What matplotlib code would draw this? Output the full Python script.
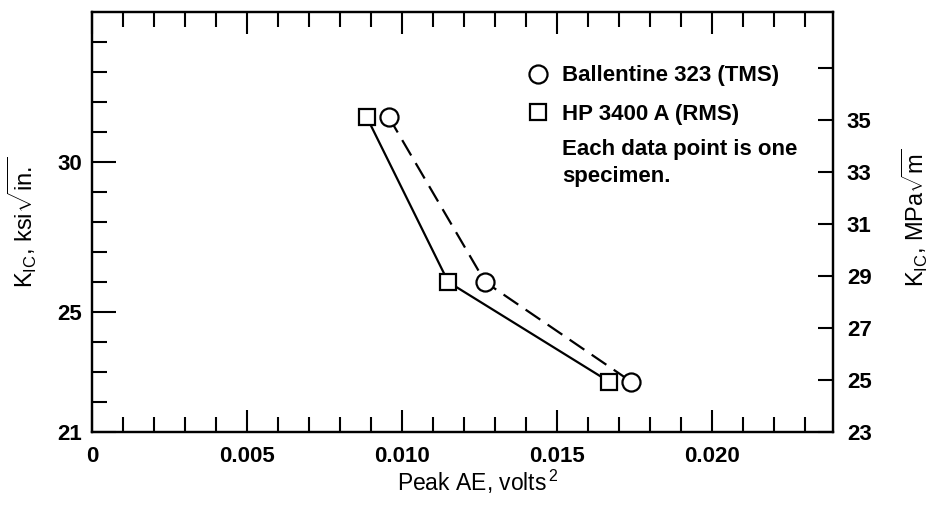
import matplotlib
matplotlib.use("Agg")
import matplotlib.pyplot as plt
from matplotlib.lines import Line2D

plt.rcParams['font.family'] = ['Liberation Sans', 'DejaVu Sans']
plt.rcParams['mathtext.fontset'] = 'custom'
plt.rcParams['mathtext.rm'] = 'Liberation Sans'
plt.rcParams['mathtext.it'] = 'Liberation Sans:italic'
plt.rcParams['mathtext.bf'] = 'Liberation Sans:bold'

# data
peak_ae_tms = [0.00957, 0.01268, 0.0174]
kic_tms = [31.5, 26.0, 22.67]
peak_ae_rms = [0.00886, 0.01149, 0.01669]
kic_rms = [31.5, 26.0, 22.67]

x_major = [0, 0.005, 0.010, 0.015, 0.020]
x_major_labels = ['0', '0.005', '0.010', '0.015', '0.020']
x_minor = [i / 1000 for i in range(0, 24)]
y_major = [21, 25, 30]
y_minor = list(range(22, 35))
mpa_ticks = [23, 25, 27, 29, 31, 33, 35, 37]
mpa_labels = ['23', '25', '27', '29', '31', '33', '35', '']

fig = plt.figure(figsize=(9.3, 5.05), dpi=100)
ax = fig.add_axes([0.099, 0.1446, 0.7967, 0.8314])

ax.plot(peak_ae_tms, kic_tms, color='black', lw=1.6, dashes=(8, 4),
        marker='o', ms=13, mfc='white', mec='black', mew=1.6, zorder=3)
ax.plot(peak_ae_rms, kic_rms, color='black', lw=1.6, ls='-',
        marker='s', ms=12, mfc='white', mec='black', mew=1.6, zorder=3)

ax.set_xlim(0, 0.0239)
ax.set_ylim(21, 35)
ax.set_xticks(x_major)
ax.set_xticklabels(x_major_labels)
ax.set_xticks(x_minor, minor=True)
ax.set_yticks(y_major)
ax.set_yticks(y_minor, minor=True)

ax.tick_params(which='both', direction='in', top=True, right=False, width=1.5)
ax.tick_params(which='major', length=16, labelsize=16)
ax.tick_params(which='minor', length=11)
ax.tick_params(axis='y', which='major', length=17, pad=7)
ax.tick_params(axis='x', pad=10)
for lab in ax.get_xticklabels() + ax.get_yticklabels():
    lab.set_fontweight('bold')
for s in ax.spines.values():
    s.set_linewidth(1.6)

# right-hand MPa scale
ax2 = ax.twinx()
ax2.set_ylim(23, 23 + 14 * 30 / 26)
ax2.set_yticks(mpa_ticks)
ax2.set_yticklabels(mpa_labels, fontweight='bold')
ax2.tick_params(direction='in', length=11, width=1.5, labelsize=16, pad=10)
for s in ax2.spines.values():
    s.set_linewidth(1.6)

ax.text(-0.094, 0.5, r'K$_{\rm IC}$, ksi$\sqrt{\rm in.}$', transform=ax.transAxes,
        rotation=90, ha='center', va='center', fontsize=17)
ax.text(1.11, 0.51, r'K$_{\rm IC}$, MPa$\sqrt{\rm m}$', transform=ax.transAxes,
        rotation=90, ha='center', va='center', fontsize=17)
ax.set_xlabel(r'Peak AE, volts$^{\,2}$', fontsize=16.5, labelpad=2)
ax.xaxis.set_label_coords(0.52, -0.085)

handles = [
    Line2D([], [], ls='none', marker='o', ms=13, mfc='white', mec='black', mew=1.6),
    Line2D([], [], ls='none', marker='s', ms=12, mfc='white', mec='black', mew=1.6),
]
leg = ax.legend(handles, ['Ballentine 323 (TMS)', 'HP 3400 A (RMS)'],
                loc='upper left', bbox_to_anchor=(0.587, 0.873), frameon=False,
                borderpad=0, borderaxespad=0, handlelength=1.0, handletextpad=0.59,
                labelspacing=0.77, prop={'size': 16, 'weight': 'bold'})
ax.text(0.634, 0.698, 'Each data point is one\nspecimen.', transform=ax.transAxes,
        ha='left', va='top', fontsize=16, fontweight='bold', linespacing=1.35)

fig.savefig('out.png', dpi=100)
